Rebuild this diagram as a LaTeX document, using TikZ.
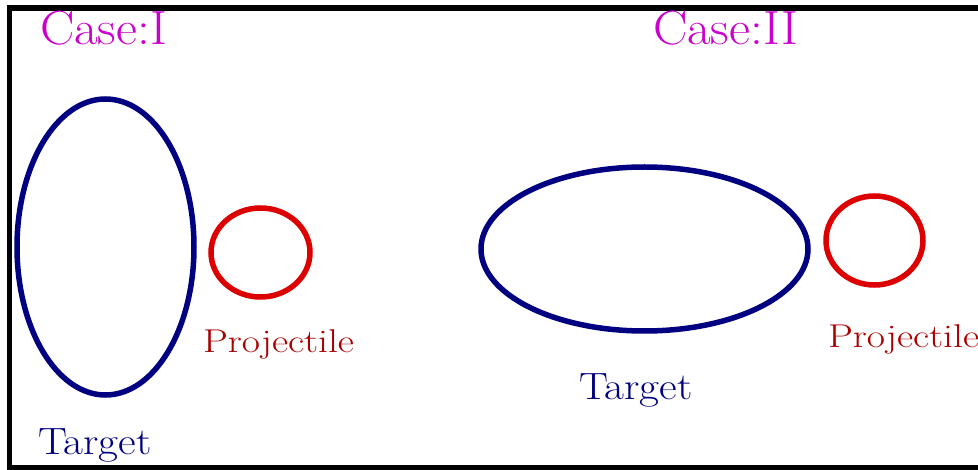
\documentclass[tikz,border=0pt]{standalone}
\usepackage{fontspec}
\usetikzlibrary{shapes.geometric}
\definecolor{casemag}{HTML}{CC00CC}
\definecolor{tgtblue}{HTML}{000080}
\definecolor{projred}{HTML}{DD0000}
\definecolor{projtext}{HTML}{AA0000}
\tikzset{
  target/.style={draw=tgtblue, line width=5.5pt, ellipse, inner sep=0pt, outer sep=0pt},
  proj/.style={draw=projred, line width=5.5pt, ellipse, inner sep=0pt, outer sep=0pt},
  lbl/.style={anchor=base west, inner sep=0pt, outer sep=0pt},
  casetxt/.style={lbl, text=casemag, font=\fontsize{48}{52}\selectfont},
  tgttxt/.style={lbl, text=tgtblue, font=\fontsize{38}{42}\selectfont},
  projtxt/.style={lbl, text=projtext, font=\fontsize{33}{36}\selectfont},
}
\begin{document}
\begin{tikzpicture}[x=1pt,y=-1pt]
\useasboundingbox (0,0) rectangle (978,470);
\fill[white] (0,0) rectangle (978,470);
% frame
\coordinate (f1) at (978,8);
\coordinate (f2) at (9.5,8);
\coordinate (f3) at (9.5,467.5);
\coordinate (f4) at (978,467.5);
\draw[line width=5.5pt] (f1) -- (f2) -- (f3) -- (f4);
% Case I
\node[casetxt] (case1) at (40,45) {\scalebox{1.07}[1]{Case:I}};
\node[target, minimum width=177pt, minimum height=296pt] (t1) at (105.5,247) {};
\node[proj, minimum width=99pt, minimum height=89pt] (p1) at (260.5,252.5) {};
\node[projtxt] (pl1) at (203,353) {\scalebox{1.2}[1]{Projectile}};
\node[tgttxt] (tl1) at (38,454) {\scalebox{1.14}[1]{Target}};
% Case II
\node[casetxt] (case2) at (653,45) {\scalebox{1.07}[1]{Case:II}};
\node[target, minimum width=327pt, minimum height=164pt] (t2) at (644.5,249) {};
\node[proj, minimum width=97pt, minimum height=89pt] (p2) at (874.5,240.5) {};
\node[projtxt] (pl2) at (828,348) {\scalebox{1.2}[1]{Projectile}};
\node[tgttxt] (tl2) at (579,400) {\scalebox{1.14}[1]{Target}};
\end{tikzpicture}
\end{document}
